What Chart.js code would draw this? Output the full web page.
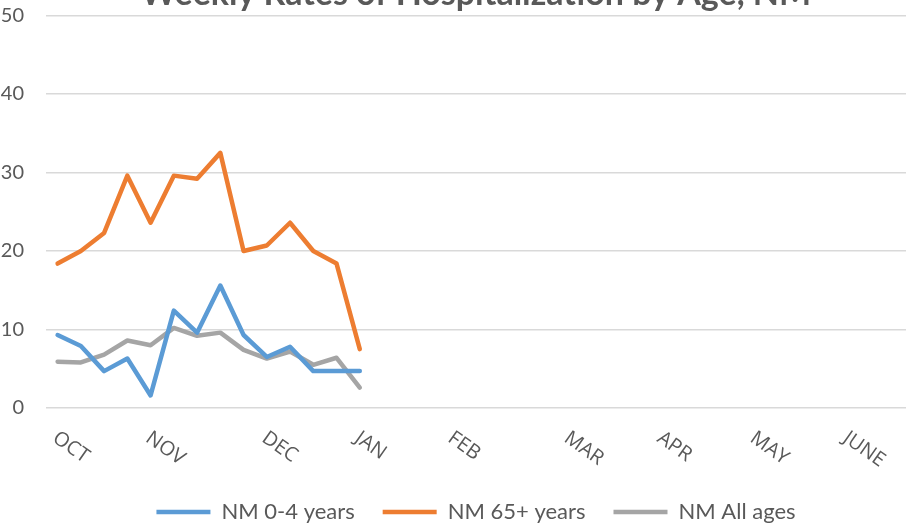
<!DOCTYPE html>
<html>
<head>
<meta charset="utf-8">
<script src="https://cdn.jsdelivr.net/npm/chart.js@4.4.1/dist/chart.umd.min.js"></script>
<style>
  html, body { margin: 0; padding: 0; background: #fff; }
  #wrap { position: relative; width: 906px; height: 524px; overflow: hidden; }
  #wrap canvas { position: absolute; left: 0; top: -30px; }
</style>
</head>
<body>
<div id="wrap">
  <canvas id="hospChart" width="906" height="563" style="width:906px;height:563px"></canvas>
</div>
<script>
// weekly categories, month name on the first week of each month
const weekLabels = [
    'OCT', '', '', '', 'NOV', '', '', '', '', 'DEC', '', '', '', 'JAN', '', '', '',
    'FEB', '', '', '', '', 'MAR', '', '', '', 'APR', '', '', '', 'MAY', '', '', '',
    'JUNE', '', ''
];

const rates0to4 = [9.3, 7.9, 4.7, 6.3, 1.6, 12.4, 9.6, 15.6, 9.3, 6.5, 7.8, 4.7, 4.7, 4.7];
const rates65plus = [18.4, 20.0, 22.3, 29.6, 23.6, 29.6, 29.2, 32.5, 20.0, 20.7, 23.6, 20.0, 18.4, 7.5];
const ratesAllAges = [5.9, 5.8, 6.8, 8.6, 8.0, 10.2, 9.2, 9.6, 7.4, 6.3, 7.2, 5.5, 6.4, 2.6];

const yTicks = [0, 10, 20, 30, 40, 50];

const titleText = 'Weekly Rates of Hospitalization by Age, NM';
const textColor = '#595959';

// month labels are slanted downward to the right, starting at their week
const slantedLabels = {
    id: 'slantedLabels',
    afterDraw(chart) {
        const ctx = chart.ctx;
        const xs = chart.scales.x;
        const bottom = chart.chartArea.bottom;
        ctx.save();
        ctx.fillStyle = textColor;
        ctx.font = '20px "Open Sans"';
        ctx.textAlign = 'left';
        ctx.textBaseline = 'top';
        weekLabels.forEach((lab, i) => {
            if (lab === '') return;
            const x = xs.getPixelForValue(i);
            ctx.save();
            ctx.translate(x + 3, bottom + 20);
            ctx.rotate(35 * Math.PI / 180);
            ctx.fillText(lab, 0, 0);
            ctx.restore();
        });
        ctx.restore();
    }
};

function lineSet(label, data, color) {
    return {
        label: label,
        data: data,
        borderColor: color,
        backgroundColor: color,
        borderWidth: 4.5,
        borderJoinStyle: 'round',
        borderCapStyle: 'round',
        pointRadius: 0,
        pointStyle: 'line',
        tension: 0,
        fill: false
    };
}

const ctx = document.getElementById('hospChart').getContext('2d');

new Chart(ctx, {
    type: 'line',
    data: {
        labels: weekLabels,
        datasets: [
            lineSet('NM 0-4 years', rates0to4, '#5B9BD5'),
            lineSet('NM 65+ years', rates65plus, '#ED7D31'),
            lineSet('NM All ages', ratesAllAges, '#A5A5A5')
        ]
    },
    options: {
        responsive: false,
        animation: false,
        layout: { padding: { top: 0, left: 0, right: 0, bottom: 0 } },
        plugins: {
            title: {
                display: true,
                text: titleText,
                fullSize: false,
                color: textColor,
                font: { family: 'Lato', size: 34, weight: 'bold', lineHeight: 1.2 },
                padding: { top: 3.6, bottom: 1.1 }
            },
            legend: {
                position: 'bottom',
                fullSize: false,
                labels: {
                    usePointStyle: true,
                    pointStyleWidth: 54,
                    padding: 28,
                    color: textColor,
                    font: { family: 'Lato', size: 22 }
                }
            },
            tooltip: { enabled: false }
        },
        scales: {
            x: {
                type: 'category',
                offset: true,
                grid: { display: false },
                border: { display: false },
                ticks: { display: false },
                afterFit: (scale) => { scale.height = 65; }
            },
            y: {
                min: 0,
                max: 50,
                afterBuildTicks: (scale) => { scale.ticks = yTicks.map(v => ({ value: v })); },
                grid: { color: '#d9d9d9', lineWidth: 1.5, drawTicks: false },
                border: { display: false },
                ticks: {
                    color: textColor,
                    padding: 22,
                    font: { family: 'Lato', size: 20 }
                },
                afterFit: (scale) => { scale.width = 46; }
            }
        }
    },
    plugins: [slantedLabels]
});
</script>
</body>
</html>
